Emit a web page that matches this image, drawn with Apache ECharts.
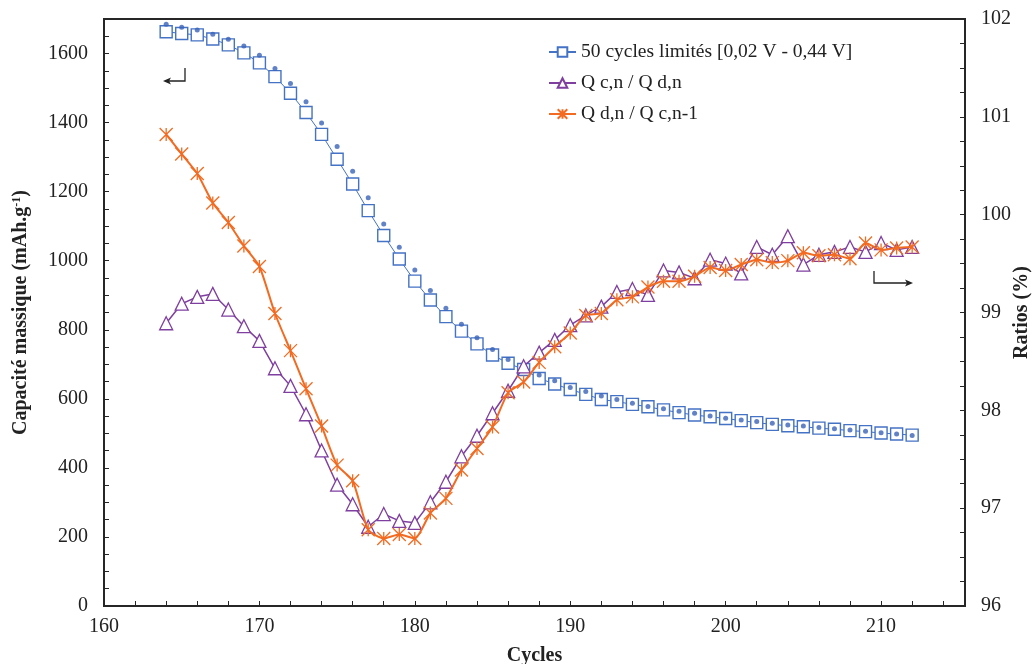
<!DOCTYPE html>
<html>
  <head>
    <meta charset="utf-8" />
    <title>Capacité massique et ratios</title>
    <script src="https://cdn.jsdelivr.net/npm/echarts@6/dist/echarts.min.js"></script>
  </head>
  <body style="margin: 0">
    <div id="main" style="width: 1036px; height: 664px"></div>
    <script type="text/javascript">
      var chartDom = document.getElementById('main');
      var myChart = echarts.init(chartDom);
      var option;

      // cycles 164 -> 212
      const cycles = [
        164, 165, 166, 167, 168, 169, 170, 171, 172, 173, 174, 175, 176, 177, 178, 179, 180,
        181, 182, 183, 184, 185, 186, 187, 188, 189, 190, 191, 192, 193, 194, 195, 196, 197,
        198, 199, 200, 201, 202, 203, 204, 205, 206, 207, 208, 209, 210, 211, 212
      ];
      // capacité (carrés)
      const capacite = [
        1663, 1658, 1654, 1642, 1625, 1602, 1573, 1533, 1485, 1429, 1366, 1294, 1222, 1145, 1073, 1005, 941,
        886, 838, 796, 759, 727, 703, 685, 659, 643, 627, 613, 598, 592, 584, 577, 568, 560,
        553, 548, 543, 537, 531, 526, 522, 519, 515, 512, 508, 505, 501, 498, 495
      ];
      // capacité (points)
      const capaciteRef = [
        1685, 1676, 1668, 1656, 1641, 1622, 1595, 1557, 1513, 1460, 1399, 1331, 1259, 1182, 1106, 1039, 973,
        914, 862, 816, 777, 743, 714, 690, 669, 652, 633, 621, 608, 598, 587, 578, 571, 564,
        558, 550, 544, 539, 534, 529, 524, 521, 517, 513, 510, 506, 502, 498, 494
      ];
      // Q c,n / Q d,n (%)
      const ratioCD = [
        98.89, 99.09, 99.16, 99.19, 99.03, 98.86, 98.71, 98.43, 98.25, 97.96, 97.59, 97.24, 97.04, 96.81, 96.94, 96.87, 96.85,
        97.06, 97.27, 97.53, 97.74, 97.97, 98.2, 98.45, 98.59, 98.72, 98.87, 98.97, 99.06, 99.21, 99.24, 99.18, 99.43, 99.41,
        99.35, 99.54, 99.5, 99.4, 99.67, 99.59, 99.78, 99.49, 99.59, 99.62, 99.67, 99.62, 99.71, 99.64, 99.67
      ];
      // Q d,n / Q c,n-1 (%)
      const ratioDC = [
        100.82, 100.62, 100.42, 100.12, 99.92, 99.68, 99.47, 98.99, 98.61, 98.22, 97.84, 97.44, 97.28, 96.78, 96.69, 96.73, 96.69,
        96.95, 97.1, 97.39, 97.61, 97.83, 98.18, 98.29, 98.49, 98.65, 98.79, 98.97, 98.99, 99.13, 99.16, 99.26, 99.32, 99.32,
        99.37, 99.46, 99.43, 99.49, 99.54, 99.51, 99.53, 99.61, 99.58, 99.59, 99.55, 99.71, 99.64, 99.66, 99.67
      ];

      const names = ['50 cycles limités [0,02 V - 0,44 V]', 'Q c,n / Q d,n', 'Q d,n / Q c,n-1'];

      const font = 'Liberation Serif';
      const axisColor = '#262626';
      const blue = '#4472C4';
      const purple = '#7F3F9E';
      const orange = '#F26B21';

      function pairs(ys) {
        return cycles.map(function (c, i) {
          return [c, ys[i]];
        });
      }

      const tickStyle = { show: true, inside: true, length: 5, lineStyle: { color: axisColor, width: 1 } };

      option = {
        backgroundColor: '#fff',
        animation: false,
        grid: {
          left: 104,
          right: 71,
          top: 19,
          bottom: 58,
          containLabel: false,
          outerBoundsMode: 'none',
          show: true,
          borderColor: axisColor,
          borderWidth: 2
        },
        legend: {
          data: names,
          orient: 'vertical',
          left: 543,
          top: 37,
          itemWidth: 27,
          itemHeight: 12,
          itemGap: 11,
          textStyle: { fontFamily: font, fontSize: 19.5, color: '#222', lineHeight: 20 }
        },
        xAxis: {
          type: 'value',
          min: 160,
          max: 215.4,
          interval: 2,
          name: 'Cycles',
          nameLocation: 'middle',
          nameGap: 40,
          nameMoveOverlap: false,
          nameTextStyle: { fontFamily: font, fontSize: 20, fontWeight: 'bold', color: '#222' },
          axisLine: { lineStyle: { color: axisColor, width: 2 } },
          axisTick: tickStyle,
          axisLabel: {
            fontFamily: font,
            fontSize: 20,
            color: '#222',
            margin: 11,
            formatter: function (v) {
              return v % 10 === 0 ? v : '';
            }
          },
          splitLine: { show: false }
        },
        yAxis: [
          {
            type: 'value',
            min: 0,
            max: 1700,
            interval: 50,
            name: 'Capacité massique (mAh.g{sup|-1})',
            nameLocation: 'middle',
            nameGap: 73,
            nameRotate: 90,
            nameMoveOverlap: false,
            nameTextStyle: {
              fontFamily: font,
              fontSize: 20,
              fontWeight: 'bold',
              color: '#222',
              rich: {
                sup: { fontFamily: font, fontSize: 12, fontWeight: 'bold', color: '#222', verticalAlign: 'top', padding: [0, 0, 8, 0] }
              }
            },
            axisLine: { show: true, lineStyle: { color: axisColor, width: 2 } },
            axisTick: tickStyle,
            axisLabel: {
              fontFamily: font,
              fontSize: 20,
              color: '#222',
              margin: 16,
              formatter: function (v) {
                return v % 200 === 0 ? v : '';
              }
            },
            splitLine: { show: false }
          },
          {
            type: 'value',
            min: 96,
            max: 102,
            interval: 0.25,
            position: 'right',
            name: 'Ratios (%)',
            nameLocation: 'middle',
            nameGap: 47,
            nameRotate: 90,
            nameMoveOverlap: false,
            nameTextStyle: { fontFamily: font, fontSize: 20, fontWeight: 'bold', color: '#222' },
            axisLine: { show: true, lineStyle: { color: axisColor, width: 2 } },
            axisTick: tickStyle,
            axisLabel: {
              fontFamily: font,
              fontSize: 20,
              color: '#222',
              margin: 16,
              formatter: function (v) {
                return Number.isInteger(v) ? v : '';
              }
            },
            splitLine: { show: false }
          }
        ],
        series: [
          {
            name: names[0],
            type: 'line',
            yAxisIndex: 0,
            data: pairs(capacite),
            symbol: 'rect',
            symbolSize: 12,
            lineStyle: { color: blue, width: 1 },
            itemStyle: { color: '#fff', borderColor: blue, borderWidth: 1.4 },
            z: 2
          },
          {
            name: 'points',
            type: 'scatter',
            yAxisIndex: 0,
            data: pairs(capaciteRef),
            symbol: 'circle',
            symbolSize: 5,
            itemStyle: { color: '#3A63B8' },
            z: 3
          },
          {
            name: names[1],
            type: 'line',
            yAxisIndex: 1,
            data: pairs(ratioCD),
            symbol: 'triangle',
            symbolSize: 13,
            lineStyle: { color: purple, width: 1.5 },
            itemStyle: { color: '#fff', borderColor: purple, borderWidth: 1.3 },
            z: 4
          },
          {
            name: names[2],
            type: 'line',
            yAxisIndex: 1,
            data: pairs(ratioDC),
            smooth: 0.2,
            symbol: 'path://M0,0L20,20M0,20L20,0M10,0L10,20',
            symbolSize: 13,
            lineStyle: { color: orange, width: 2 },
            itemStyle: { color: orange, borderColor: orange, borderWidth: 1.3 },
            z: 5
          }
        ],
        graphic: [
          // flèche vers l'axe de gauche
          {
            type: 'polyline',
            shape: { points: [[185, 68], [185, 81], [167, 81]] },
            style: { stroke: '#222', lineWidth: 1.3, fill: null }
          },
          {
            type: 'polygon',
            shape: { points: [[163, 81], [171, 77.5], [169, 81], [171, 84.5]] },
            style: { fill: '#222' }
          },
          // flèche vers l'axe de droite
          {
            type: 'polyline',
            shape: { points: [[874, 271], [874, 283], [909, 283]] },
            style: { stroke: '#222', lineWidth: 1.3, fill: null }
          },
          {
            type: 'polygon',
            shape: { points: [[913, 283], [905, 279.5], [907, 283], [905, 286.5]] },
            style: { fill: '#222' }
          }
        ]
      };

      option && myChart.setOption(option);
    </script>
  </body>
</html>
